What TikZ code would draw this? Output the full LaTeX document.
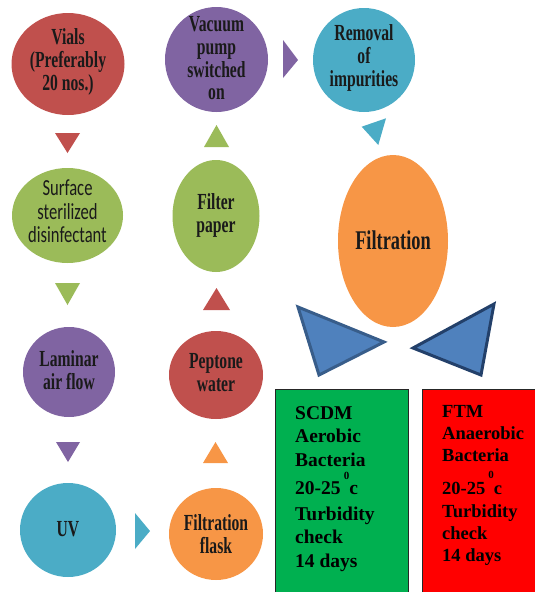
\documentclass[tikz,border=0pt]{standalone}
\usepackage{fontspec}
\setmainfont{Liberation Serif}
\newfontfamily\condserif[FakeStretch=0.68]{Liberation Serif}
\newfontfamily\condsans[FakeStretch=0.72]{Carlito}
\usetikzlibrary{shapes.geometric}
\definecolor{cred}{HTML}{C0504D}
\definecolor{cgreen}{HTML}{9BBB59}
\definecolor{cpurple}{HTML}{8064A2}
\definecolor{cteal}{HTML}{4BACC6}
\definecolor{corange}{HTML}{F79646}
\definecolor{cblue}{HTML}{4F81BD}
\definecolor{cblueedge}{HTML}{385D8A}
\definecolor{cblueedgedark}{HTML}{23406A}
\definecolor{boxgreen}{HTML}{00B050}
\definecolor{boxred}{HTML}{FF0000}
\definecolor{txt}{HTML}{1A1A1A}
\newcommand\degsup[2]{\raisebox{#1}{\fontsize{11}{11}\selectfont #2}}
\begin{document}
\begin{tikzpicture}[x=1pt,y=-1pt,
  blob/.style={ellipse, draw=none, inner sep=0pt},
  ctext/.style={align=center, inner sep=0pt, text=txt,
    font=\condserif\bfseries\fontsize{23}{23}\selectfont},
  stext/.style={align=center, inner sep=0pt, text=txt,
    font=\condsans\fontsize{23}{23.5}\selectfont},
  flowbox/.style={draw=black!85, line width=1.4pt},
  boxtext/.style={align=left, anchor=north west, inner sep=0pt, text=black}
]
\useasboundingbox (0,0) rectangle (535,592);

% circles (left column)
\node[blob, fill=cred,    minimum width=113, minimum height=102] (vials)   at (68,64)  {};
\node[blob, fill=cgreen,  minimum width=111, minimum height=95]  (surface) at (67.5,215.5) {};
\node[blob, fill=cpurple, minimum width=92,  minimum height=90]  (laminar) at (69,372) {};
\node[blob, fill=cteal,   minimum width=96,  minimum height=94]  (uv)      at (68,530) {};
% middle column
\node[blob, fill=corange, minimum width=94,  minimum height=92]  (flask)   at (216,534) {};
\node[blob, fill=cred,    minimum width=94,  minimum height=88]  (peptone) at (216,375) {};
\node[blob, fill=cgreen,  minimum width=87,  minimum height=112] (filter)  at (216,216) {};
\node[blob, fill=cpurple, minimum width=103, minimum height=105] (vacuum)  at (216.5,59.5) {};
% right column
\node[blob, fill=cteal,   minimum width=102, minimum height=104] (removal) at (364,60) {};
\node[blob, fill=corange, minimum width=110, minimum height=172] (filtration) at (393,241) {};

% texts
\node[ctext] at ([yshift=2]vials) {Vials\\(Preferably\\20 nos.)};
\node[stext] at ([yshift=4]surface) {Surface\\sterilized\\disinfectant};
\node[ctext] at ([yshift=2]laminar) {Laminar\\air flow};
\node[ctext] at ([yshift=1]uv) {UV};
\node[ctext] at ([yshift=0]flask) {Filtration\\flask};
\node[ctext] at ([yshift=2]peptone) {Peptone\\water};
\node[ctext] at ([yshift=1]filter) {Filter\\paper};
\node[ctext, font=\condserif\bfseries\fontsize{23}{22.7}\selectfont] at ([yshift=1]vacuum) {Vacuum\\pump\\switched\\on};
\node[ctext] at ([yshift=2]removal) {Removal\\of\\impurities};
\node[ctext, font=\condserif\bfseries\fontsize{27}{27}\selectfont] at ([yshift=1]filtration) {Filtration};

% small triangle markers
\fill[cred]    (55,133) -- (80,133) -- (67.5,153) -- cycle;
\fill[cgreen]  (55,283) -- (80,283) -- (67.5,305) -- cycle;
\fill[cpurple] (56,442) -- (80,442) -- (68,462) -- cycle;
\fill[cteal]   (135,513) -- (150,531) -- (135,549) -- cycle;
\fill[corange] (203,463) -- (228,463) -- (215.5,442) -- cycle;
\fill[cred]    (203,310) -- (230,310) -- (216.5,288) -- cycle;
\fill[cgreen]  (204,147) -- (229,147) -- (216.5,125) -- cycle;
\fill[cpurple] (283,40) -- (298,60) -- (283,78) -- cycle;
\fill[cteal]   (361.7,126.7) -- (386,118.3) -- (378.3,145) -- cycle;

% big blue triangles
\filldraw[fill=cblue, draw=cblueedge, line width=3pt, line join=miter]
  (298,307) -- (384,342) -- (319,375) -- cycle;
\filldraw[fill=cblue, draw=cblueedgedark, line width=3pt, line join=miter]
  (494,304) -- (413,348) -- (481,375) -- cycle;

% boxes
\node[flowbox, fill=boxgreen, minimum width=133, minimum height=215, anchor=north west, inner sep=0] (scdm) at (275,389) {};
\node[flowbox, fill=boxred, minimum width=120, minimum height=215, anchor=north west, inner sep=0] (ftm) at (422,389) {};

\node[boxtext, font=\bfseries\fontsize{19.5}{23.5}\selectfont] (scdmtext) at (295,406)
  {SCDM\\Aerobic\\Bacteria\\[5pt]20-25\,\degsup{15pt}{0}c\\[2pt]Turbidity\\check\\14 days};
\node[boxtext, font=\bfseries\fontsize{18.5}{22}\selectfont] (ftmtext) at (442,405.5)
  {FTM\\Anaerobic\\Bacteria\\[8pt]20-25\,\degsup{16pt}{0}c\\[1pt]Turbidity\\check\\14 days};
\end{tikzpicture}
\end{document}
